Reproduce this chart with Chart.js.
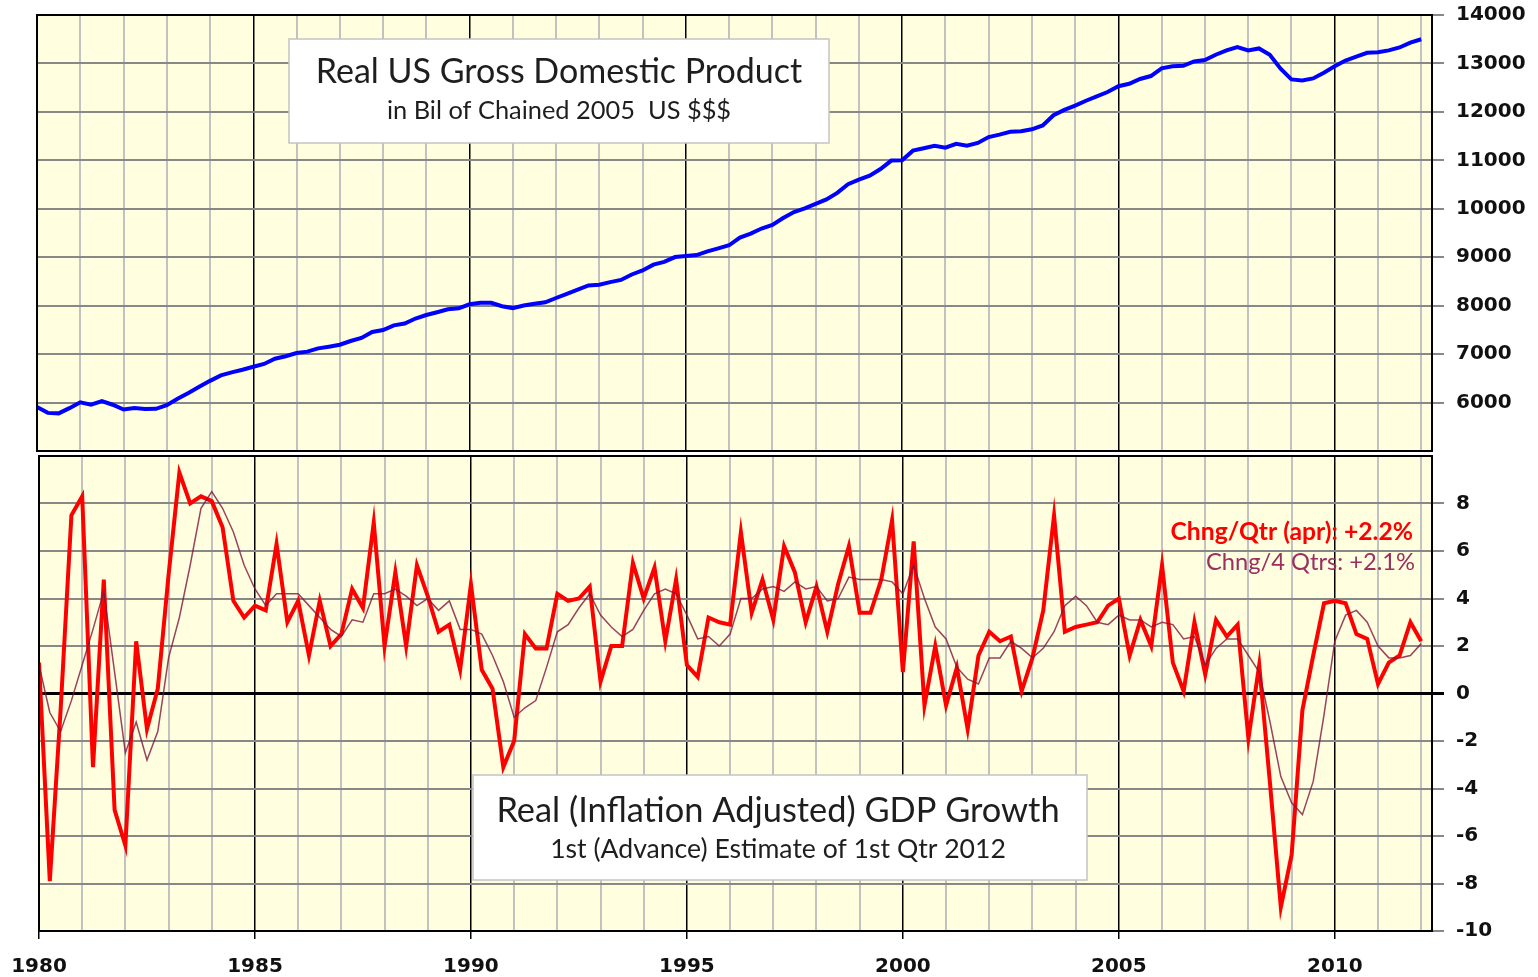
<!DOCTYPE html>
<html>
<head>
<meta charset="utf-8">
<title>Real US GDP</title>
<script src="https://cdn.jsdelivr.net/npm/chart.js@4.4.1/dist/chart.umd.min.js"></script>
<style>
  body { margin: 0; background: #fff; }
  #wrap { position: relative; width: 1538px; height: 977px; }
  .panel { position: absolute; left: 0; width: 1538px; }
  #topPanel { top: 0; height: 455px; }
  #bottomPanel { top: 454px; height: 523px; }
</style>
</head>
<body>
<div id="wrap">
  <div class="panel" id="topPanel"><canvas id="gdpChart"></canvas></div>
  <div class="panel" id="bottomPanel"><canvas id="growthChart"></canvas></div>
</div>
<script>
// quarterly series, 1980 Q1 .. 2012 Q1
const startYear = 1980;
const labelYears = [1980, 1985, 1990, 1995, 2000, 2005, 2010];

// real GDP, bil of chained 2005 $
const gdpLevel = [
  5908, 5787, 5777, 5884,   6006, 5958, 6030, 5955,   5857, 5889, 5866, 5871,
  5944, 6078, 6198, 6326,   6448, 6560, 6623, 6677,   6740, 6797, 6904, 6956,
  7023, 7051, 7118, 7153,   7193, 7270, 7333, 7458,   7497, 7593, 7632, 7734,
  7807, 7865, 7927, 7945,   8028, 8060, 8060, 7989,   7950, 8004, 8038, 8069,
  8158, 8244, 8329, 8417,   8433, 8486, 8531, 8644,   8728, 8847, 8904, 9003,
  9025, 9045, 9121, 9184,   9247, 9407, 9489, 9593,   9666, 9810, 9933, 10009,
  10103, 10194, 10329, 10508, 10601, 10684, 10820, 10995,
  11000, 11200, 11250, 11300, 11260, 11340, 11300, 11360,
  11480, 11530, 11590, 11600, 11640, 11720, 11930, 12040,
  12130, 12230, 12320, 12410, 12530, 12580, 12680, 12740,
  12900, 12940, 12950, 13040, 13070, 13180, 13270, 13340,
  13270, 13310, 13180, 12890, 12670, 12650, 12690, 12810,
  12940, 13060, 13140, 13220, 13230, 13270, 13330, 13430,
  13500
];

// change per quarter, annualized %
const qtrGrowth = [
  1.3, -7.9, -0.7, 7.5,   8.3, -3.1, 4.8, -4.9,   -6.4, 2.2, -1.5, 0.2,
  5.0, 9.3, 8.0, 8.3,     8.1, 7.0, 3.9, 3.2,     3.7, 3.5, 6.3, 3.0,
  3.9, 1.6, 3.9, 2.0,     2.5, 4.4, 3.6, 7.2,     2.0, 5.1, 2.0, 5.4,
  4.1, 2.6, 2.9, 1.0,     4.6, 1.0, 0.2, -3.1,    -2.0, 2.5, 1.9, 1.9,
  4.2, 3.9, 4.0, 4.5,     0.5, 2.0, 2.0, 5.5,     4.0, 5.3, 2.2, 4.8,
  1.2, 0.7, 3.2, 3.0,     2.9, 6.8, 3.4, 4.8,     3.1, 6.2, 5.1, 3.0,
  4.5, 2.6, 4.6, 6.2,     3.4, 3.4, 4.8, 7.3,     0.9, 6.4, -0.5, 2.0,
  -0.5, 1.1, -1.5, 1.6,   2.6, 2.2, 2.4, 0.1,     1.5, 3.5, 7.5, 2.6,
  2.8, 2.9, 3.0, 3.7,     4.0, 1.6, 3.1, 2.0,     5.4, 1.3, 0.1, 3.0,
  0.8, 3.1, 2.4, 2.9,     -1.9, 1.2, -3.8, -9.0,  -6.8, -0.7, 1.6, 3.8,
  3.9, 3.8, 2.5, 2.3,     0.4, 1.3, 1.6, 3.0,     2.2
];

// change over 4 quarters, %
const yearGrowth = [
  1.2, -0.8, -1.6, -0.3,  1.2, 2.7, 4.3, 0.9,     -2.5, -1.2, -2.8, -1.6,
  1.5, 3.2, 5.4, 7.8,     8.5, 7.8, 6.8, 5.4,     4.4, 3.7, 4.2, 4.2,
  4.2, 3.7, 3.2, 2.7,     2.4, 3.1, 3.0, 4.2,     4.2, 4.4, 4.1, 3.7,
  4.0, 3.5, 3.9, 2.7,     2.7, 2.5, 1.6, 0.5,     -1.0, -0.6, -0.3, 1.1,
  2.6, 2.9, 3.6, 4.2,     3.3, 2.8, 2.4, 2.7,     3.5, 4.2, 4.4, 4.2,
  3.3, 2.3, 2.4, 2.0,     2.5, 4.0, 4.0, 4.4,     4.5, 4.3, 4.7, 4.4,
  4.5, 3.9, 4.0, 4.9,     4.8, 4.8, 4.8, 4.7,     4.2, 5.4, 4.0, 2.8,
  2.3, 1.1, 0.6, 0.4,     1.5, 1.5, 2.2, 1.9,     1.5, 1.9, 2.6, 3.7,
  4.1, 3.7, 3.0, 2.9,     3.3, 3.1, 3.1, 2.8,     3.0, 2.9, 2.3, 2.4,
  1.2, 1.9, 2.3, 2.3,     1.6, 0.9, -1.2, -3.5,   -4.6, -5.1, -3.7, -0.9,
  2.2, 3.3, 3.5, 3.0,     2.0, 1.5, 1.5, 1.6,     2.1
];

const gdpTicks = [5000, 6000, 7000, 8000, 9000, 10000, 11000, 12000, 13000, 14000];
const growthTicks = [-10, -8, -6, -4, -2, 0, 2, 4, 6, 8, 10];

const quarterX = gdpLevel.map((v, i) => startYear + i / 4);
const toPoints = arr => arr.map((v, i) => ({ x: quarterX[i], y: v }));

const axisFont = { family: "'DejaVu Sans'", size: 20, weight: 'bold' };
const isMajor = c => c.tick && labelYears.includes(c.tick.value);

// scale the font so the text spans the given width
function fitFont(ctx, text, weight, family, width) {
  ctx.font = weight + ' 100px ' + family;
  const size = 100 * width / ctx.measureText(text).width;
  return weight + ' ' + size.toFixed(1) + 'px ' + family;
}

// yellow plot area, black frame, white title boxes and texts
function makeDecor(boxes, texts) {
  return {
    id: 'decor',
    beforeDraw(chart) {
      const { ctx, chartArea: a } = chart;
      ctx.save();
      ctx.fillStyle = '#ffffe0';
      ctx.fillRect(a.left, a.top, a.right - a.left, a.bottom - a.top);
      ctx.restore();
    },
    afterDraw(chart) {
      const { ctx, chartArea: a } = chart;
      ctx.save();
      ctx.strokeStyle = '#000';
      ctx.lineWidth = 2;
      ctx.strokeRect(a.left, a.top, a.right - a.left, a.bottom - a.top);
      boxes.forEach(b => {
        ctx.fillStyle = '#fff';
        ctx.fillRect(b.x, b.y, b.w, b.h);
        ctx.strokeStyle = '#c4c4c4';
        ctx.lineWidth = 1.5;
        ctx.strokeRect(b.x, b.y, b.w, b.h);
      });
      texts.forEach(t => {
        ctx.font = fitFont(ctx, t.text, t.weight || 'normal', "'Lato'", t.width);
        ctx.fillStyle = t.color || '#1e1e1e';
        ctx.textAlign = t.align || 'center';
        ctx.textBaseline = 'alphabetic';
        ctx.fillText(t.text, t.x, t.y);
      });
      ctx.restore();
    }
  };
}

function xScale(showLabels) {
  return {
    type: 'linear',
    min: 1980,
    max: 2012.25,
    ticks: {
      stepSize: 1,
      includeBounds: false,
      autoSkip: false,
      maxRotation: 0,
      display: showLabels,
      padding: 16,
      color: '#111',
      font: axisFont,
      callback: v => labelYears.includes(v) ? String(v) : ''
    },
    grid: {
      color: c => isMajor(c) ? '#000' : '#c2c2c2',
      lineWidth: c => isMajor(c) ? 1.5 : 2,
      drawTicks: showLabels,
      tickLength: 8,
      tickColor: c => isMajor(c) ? '#000' : 'rgba(0,0,0,0)'
    },
    border: { display: false },
    afterFit(s) {
      s.height = showLabels ? 46 : 0;
      s.paddingLeft = 0;
      s.paddingRight = 0;
    }
  };
}

function yScale(ticks, hidden, zeroLine) {
  return {
    position: 'right',
    min: ticks[0],
    max: ticks[ticks.length - 1],
    afterBuildTicks(s) { s.ticks = ticks.map(v => ({ value: v })); },
    ticks: {
      padding: 12,
      color: '#111',
      font: axisFont,
      callback: v => v === hidden ? null : String(v)
    },
    grid: {
      color: c => (zeroLine && c.tick && c.tick.value === 0) ? '#000' : '#888',
      lineWidth: c => (zeroLine && c.tick && c.tick.value === 0) ? 3 : 2,
      tickLength: 12
    },
    border: { display: false },
    afterFit(s) {
      s.width = 106;
      s.paddingTop = 0;
      s.paddingBottom = 0;
    }
  };
}

const common = {
  responsive: true,
  maintainAspectRatio: false,
  animation: false,
  plugins: { legend: { display: false }, tooltip: { enabled: false } }
};

new Chart(document.getElementById('gdpChart'), {
  type: 'line',
  data: {
    datasets: [{
      data: toPoints(gdpLevel),
      borderColor: '#0000ff',
      borderWidth: 4,
      pointRadius: 0,
      tension: 0
    }]
  },
  options: {
    ...common,
    layout: { padding: { left: 37, top: 15, right: 0, bottom: 4 } },
    scales: { x: xScale(false), y: yScale(gdpTicks, 5000, false) }
  },
  plugins: [makeDecor(
    [{ x: 289, y: 39, w: 540, h: 104 }],
    [
      { text: 'Real US Gross Domestic Product', x: 559, y: 83, width: 487 },
      { text: 'in Bil of Chained 2005  US $$$', x: 559, y: 119, width: 344 }
    ]
  )]
});

const lastQtr = qtrGrowth[qtrGrowth.length - 1];
const lastYear = yearGrowth[yearGrowth.length - 1];
const fmt = v => (v >= 0 ? '+' : '') + v.toFixed(1) + '%';

new Chart(document.getElementById('growthChart'), {
  type: 'line',
  data: {
    datasets: [
      {
        data: toPoints(yearGrowth),
        borderColor: 'rgba(128, 20, 60, 0.8)',
        borderWidth: 1.5,
        pointRadius: 0,
        tension: 0
      },
      {
        data: toPoints(qtrGrowth),
        borderColor: '#ff0000',
        borderWidth: 4,
        pointRadius: 0,
        tension: 0
      }
    ]
  },
  options: {
    ...common,
    layout: { padding: { left: 39, top: 2, right: 0, bottom: 0 } },
    scales: { x: xScale(true), y: yScale(growthTicks, 10, true) }
  },
  plugins: [makeDecor(
    [{ x: 473, y: 321, w: 614, h: 105 }],
    [
      { text: 'Real (Inflation Adjusted) GDP Growth', x: 778, y: 368, width: 563 },
      { text: '1st (Advance) Estimate of 1st Qtr 2012', x: 778, y: 404, width: 455 },
      { text: 'Chng/Qtr (apr): ' + fmt(lastQtr), x: 1413, y: 86, width: 243, weight: 'bold', color: '#ff0000', align: 'right' },
      { text: 'Chng/4 Qtrs: ' + fmt(lastYear), x: 1415, y: 116, width: 209, color: '#993060', align: 'right' }
    ]
  )]
});
</script>
</body>
</html>
